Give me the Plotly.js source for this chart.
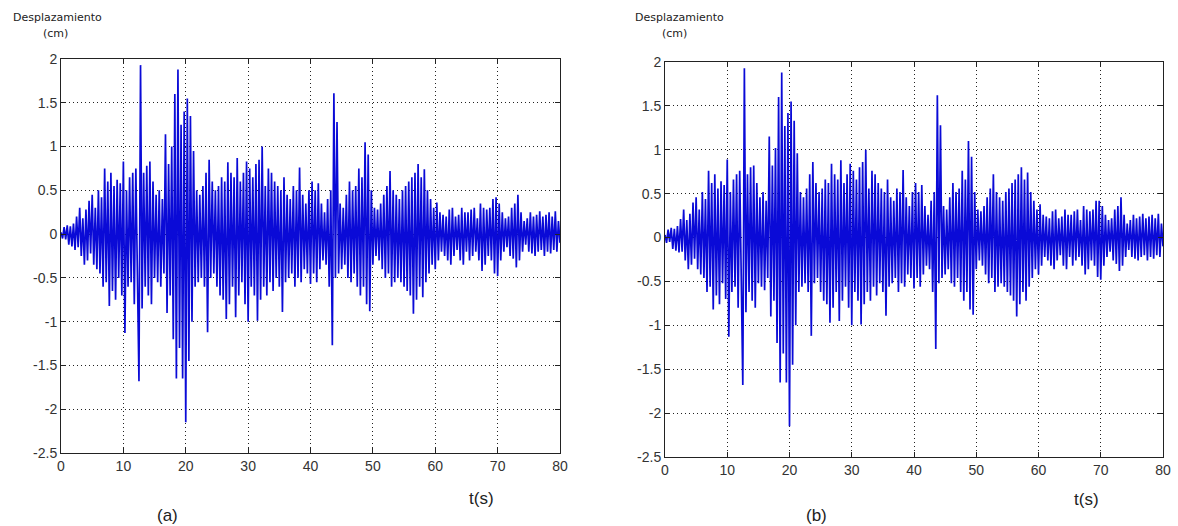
<!DOCTYPE html>
<html>
<head>
<meta charset="utf-8">
<script src="https://cdn.plot.ly/plotly-3.0.1.min.js"></script>
<style>html,body{margin:0;padding:0;background:#fff}#chart{width:1178px;height:526px}</style>
</head>
<body>
<div id="chart"></div>
<script>
// sampling interval of the read-off trace (s)
const sampleStep = 0.25;

// Panel (a) displacement (cm), one row per second (4 samples each)
const dispA = [
 0.02,-0.05,0.08,-0.06,  0.10,-0.12,0.09,-0.14,  0.12,-0.18,0.20,-0.15,  0.30,-0.25,0.18,-0.35,
 0.28,-0.30,0.38,-0.22,  0.45,-0.35,0.30,-0.40,  0.50,-0.45,0.42,-0.60,  0.75,-0.55,0.60,-0.82,
 0.70,-0.65,0.55,-0.75,  0.62,-0.50,0.58,-0.70,  0.83,-1.13,0.50,-0.60,  0.65,-0.55,0.70,-0.80,
 0.75,-0.60,-1.68,1.93,  -0.85,0.70,-0.60,0.78,  -0.70,0.83,-0.80,0.60,  -0.50,0.45,-0.55,0.50,
 -0.60,0.40,-0.45,1.14,  -0.90,0.80,-0.70,1.00,  -1.20,1.60,-1.65,1.88,  -1.30,1.25,-1.65,1.40,
 -2.15,1.55,-1.45,1.35,  -1.00,0.95,-0.60,0.50,  -0.55,0.45,-0.50,0.55,  -0.60,0.70,-1.12,0.85,
 -0.50,0.60,-0.45,0.50,  -0.60,0.55,-0.70,0.65,  -0.75,0.60,-0.97,0.82,  -0.80,0.70,-0.60,0.65,
 -0.95,0.87,-0.70,0.60,  -0.55,0.70,-0.80,0.83,  -1.00,0.75,-0.60,0.65,  -0.70,0.80,-0.99,0.85,
 -0.75,1.00,-0.60,0.55,  -0.70,0.75,-0.55,0.70,  -0.65,0.60,-0.50,0.55,  -0.60,0.50,-0.89,0.65,
 -0.55,0.45,-0.50,0.40,  -0.45,0.55,-0.60,0.50,  -0.50,0.76,-0.55,0.45,  -0.40,0.35,-0.45,0.50,
 -0.57,0.60,-0.45,0.50,  -0.55,0.58,-0.40,0.35,  -0.30,0.25,-0.35,0.40,  -0.60,0.50,-1.27,1.61,
 -0.50,1.28,-0.45,0.35,  -0.40,0.30,-0.35,0.45,  -0.50,0.60,-0.55,0.50,  -0.45,0.55,-0.60,0.75,
 -0.70,0.65,-0.60,1.05,  -0.80,0.91,-0.88,0.50,  -0.35,0.30,-0.25,0.28,  -0.30,0.35,-0.40,0.45,
 -0.50,0.55,-0.45,0.72,  -0.60,0.50,-0.55,0.45,  -0.50,0.40,-0.55,0.50,  -0.60,0.55,-0.65,0.60,
 -0.70,0.65,-0.91,0.70,  -0.75,0.80,-0.60,0.65,  -0.72,0.74,-0.55,0.50,  -0.45,0.40,-0.35,0.30,
 -0.40,0.36,-0.30,0.25,  -0.20,0.22,-0.25,0.20,  -0.30,0.28,-0.35,0.30,  -0.25,0.20,-0.18,0.22,
 -0.30,0.30,-0.35,0.25,  -0.20,0.25,-0.30,0.28,  -0.25,0.30,-0.20,0.18,  -0.30,0.35,-0.42,0.30,
 -0.35,0.28,-0.25,0.30,  -0.30,0.40,-0.45,0.42,  -0.48,0.35,-0.30,0.25,  -0.20,0.18,-0.15,0.20,
 -0.25,0.30,-0.28,0.35,  -0.38,0.45,-0.30,0.25,  -0.20,0.15,-0.12,0.18,  -0.20,0.25,-0.22,0.20,
 -0.25,0.22,-0.20,0.26,  -0.18,0.20,-0.25,0.22,  -0.20,0.25,-0.22,0.20,  -0.18,0.26,-0.20,0.15,
 -0.10
];

// Panel (b) displacement (cm)
const dispB = [
 0.03,-0.06,0.09,-0.05,  0.11,-0.13,0.10,-0.15,  0.13,-0.17,0.21,-0.16,  0.32,-0.26,0.20,-0.36,
 0.27,-0.31,0.40,-0.24,  0.46,-0.36,0.32,-0.42,  0.52,-0.46,0.44,-0.62,  0.76,-0.56,0.62,-0.82,
 0.72,-0.66,0.56,-0.76,  0.64,-0.52,0.60,-0.70,  0.89,-1.13,0.52,-0.62,  0.66,-0.56,0.72,-0.80,
 0.76,-0.62,-1.68,1.93,  -0.85,0.72,-0.62,0.80,  -0.72,0.82,-0.80,0.62,  -0.52,0.46,-0.56,0.52,
 -0.60,0.42,-0.46,1.15,  -0.90,0.82,-0.72,1.02,  -1.20,1.60,-1.65,1.88,  -1.32,1.27,-1.65,1.42,
 -2.15,1.55,-1.45,1.33,  -1.00,0.96,-0.62,0.52,  -0.56,0.46,-0.52,0.56,  -0.62,0.72,-1.12,0.86,
 -0.52,0.62,-0.46,0.52,  -0.62,0.56,-0.72,0.66,  -0.76,0.62,-0.97,0.84,  -0.80,0.72,-0.62,0.66,
 -0.95,0.88,-0.72,0.62,  -0.56,0.72,-0.80,0.84,  -1.00,0.76,-0.62,0.66,  -0.72,0.80,-0.99,0.86,
 -0.76,1.00,-0.62,0.56,  -0.72,0.76,-0.56,0.72,  -0.66,0.62,-0.52,0.56,  -0.62,0.52,-0.89,0.66,
 -0.56,0.46,-0.52,0.42,  -0.46,0.56,-0.62,0.52,  -0.52,0.77,-0.56,0.46,  -0.42,0.36,-0.46,0.52,
 -0.58,0.62,-0.46,0.52,  -0.56,0.60,-0.42,0.36,  -0.32,0.26,-0.36,0.42,  -0.62,0.52,-1.27,1.62,
 -0.52,1.28,-0.46,0.36,  -0.42,0.32,-0.36,0.46,  -0.52,0.62,-0.56,0.52,  -0.46,0.56,-0.62,0.76,
 -0.72,0.66,-0.62,1.10,  -0.82,0.92,-0.88,0.52,  -0.36,0.32,-0.26,0.30,  -0.32,0.36,-0.42,0.46,
 -0.52,0.56,-0.46,0.72,  -0.62,0.52,-0.56,0.46,  -0.52,0.42,-0.56,0.52,  -0.62,0.56,-0.66,0.62,
 -0.72,0.66,-0.90,0.72,  -0.76,0.80,-0.62,0.66,  -0.72,0.74,-0.56,0.52,  -0.46,0.42,-0.36,0.32,
 -0.42,0.38,-0.32,0.26,  -0.22,0.24,-0.26,0.22,  -0.32,0.30,-0.36,0.32,  -0.26,0.22,-0.20,0.24,
 -0.32,0.32,-0.36,0.26,  -0.22,0.26,-0.32,0.30,  -0.26,0.32,-0.22,0.20,  -0.32,0.36,-0.42,0.32,
 -0.36,0.30,-0.26,0.32,  -0.32,0.42,-0.45,0.42,  -0.48,0.36,-0.32,0.26,  -0.22,0.20,-0.16,0.22,
 -0.26,0.32,-0.30,0.36,  -0.38,0.46,-0.32,0.26,  -0.22,0.16,-0.14,0.20,  -0.22,0.26,-0.24,0.22,
 -0.26,0.24,-0.22,0.27,  -0.20,0.22,-0.26,0.24,  -0.22,0.26,-0.24,0.22,  -0.20,0.27,-0.22,0.16,
 -0.10
];

const xTickVals = [0,10,20,30,40,50,60,70,80];
const xTickText = ['0','10','20','30','40','50','60','70','80'];
const yTickVals = [-2.5,-2,-1.5,-1,-0.5,0,0.5,1,1.5,2];
const yTickText = ['-2.5','-2','-1.5','-1','-0.5','0','0.5','1','1.5','2'];

const timeA = dispA.map((_, i) => i * sampleStep);
const timeB = dispB.map((_, i) => i * sampleStep);

const W = 1178, H = 526;
const px = v => v / W, py = v => 1 - v / H;

const lineStyle = {color: 'rgb(10,10,215)', width: 1.7};

const traces = [
  {x: timeA, y: dispA, type: 'scatter', mode: 'lines', line: lineStyle, xaxis: 'x', yaxis: 'y', hoverinfo: 'skip'},
  {x: timeB, y: dispB, type: 'scatter', mode: 'lines', line: lineStyle, xaxis: 'x2', yaxis: 'y2', hoverinfo: 'skip'}
];

const tickFont = {family: 'Liberation Sans, Arial', size: 14, color: '#333'};

function xAxis(domain, anchor) {
  return {
    domain: domain, anchor: anchor, range: [0, 80],
    tickmode: 'array', tickvals: xTickVals, ticktext: xTickText,
    showgrid: true, gridcolor: '#222', griddash: '1px,3px', gridwidth: 1,
    zeroline: false, showline: true, linecolor: '#222', linewidth: 1, mirror: 'ticks',
    ticks: 'inside', ticklen: 5, tickcolor: '#222', tickfont: tickFont
  };
}
function yAxis(domain, anchor) {
  return {
    domain: domain, anchor: anchor, range: [-2.5, 2],
    tickmode: 'array', tickvals: yTickVals, ticktext: yTickText,
    showgrid: true, gridcolor: '#222', griddash: '1px,3px', gridwidth: 1,
    zeroline: false, showline: true, linecolor: '#222', linewidth: 1, mirror: 'ticks',
    ticks: 'inside', ticklen: 5, tickcolor: '#222', tickfont: tickFont
  };
}

function txt(text, x, y, size, family) {
  return {text: text, xref: 'paper', yref: 'paper', x: px(x), y: py(y),
    xanchor: 'center', yanchor: 'middle', showarrow: false,
    font: {family: family || 'DejaVu Sans', size: size, color: '#222'}};
}

const layout = {
  width: W, height: H,
  margin: {l: 0, r: 0, t: 0, b: 0},
  paper_bgcolor: '#fff', plot_bgcolor: '#fff',
  showlegend: false,
  xaxis: xAxis([px(61), px(560)], 'y'),
  yaxis: yAxis([py(453), py(59)], 'x'),
  xaxis2: xAxis([px(665), px(1163)], 'y2'),
  yaxis2: yAxis([py(457), py(62)], 'x2'),
  annotations: [
    txt('Desplazamiento', 57, 17, 11),
    txt('(cm)', 55, 33, 11),
    txt('Desplazamiento', 679, 17, 11),
    txt('(cm)', 674, 33, 11),
    txt('t(s)', 481, 498, 17, 'Liberation Sans, Arial'),
    txt('t(s)', 1086, 499, 17, 'Liberation Sans, Arial'),
    txt('(a)', 167, 515, 17, 'Liberation Sans, Arial'),
    txt('(b)', 816, 515, 17, 'Liberation Sans, Arial')
  ]
};

Plotly.newPlot('chart', traces, layout, {staticPlot: true, displayModeBar: false});
</script>
</body>
</html>
